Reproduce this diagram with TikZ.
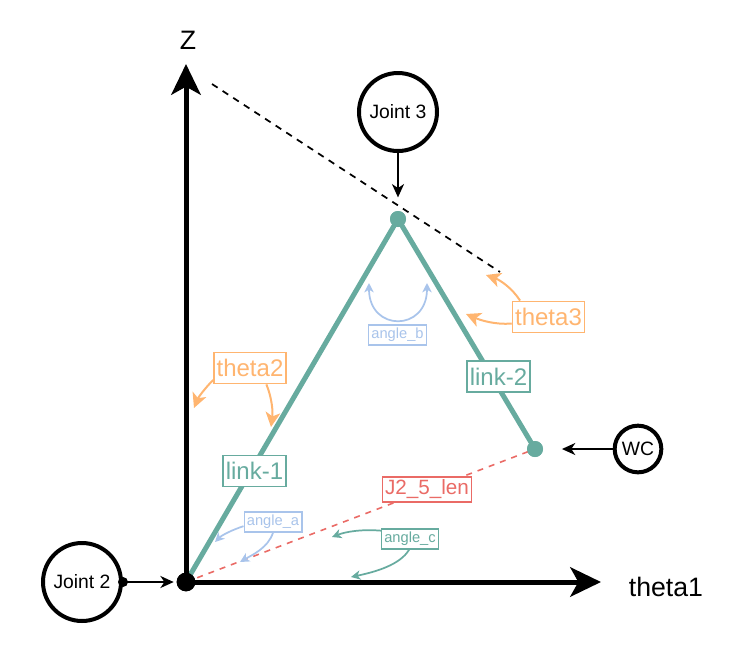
\documentclass[tikz,border=0pt]{standalone}
\usepackage{fontspec}
\setmainfont{Liberation Sans}
\usetikzlibrary{arrows.meta}
\definecolor{lgreen}{HTML}{67AB9F}
\definecolor{lorange}{HTML}{FFB570}
\definecolor{lblue}{HTML}{A9C4EB}
\definecolor{lred}{HTML}{EA6B66}
\tikzset{
  axis/.style={line width=3.75pt, -{Stealth[length=23pt,width=22pt,inset=6pt]}},
  joint/.style={circle, draw, line width=3pt, inner sep=0pt, font=\fontsize{14.5}{17}\selectfont},
  bigdot/.style={circle, fill, inner sep=0pt, minimum size=#1},
  ptr/.style={line width=1.5pt, -{Stealth[length=10pt,width=9pt,inset=3pt]}},
  lbl/.style={draw, fill=white, line width=1.1pt, inner xsep=2pt, inner ysep=0pt},
  olbl/.style={lbl, draw=lorange, text=lorange, minimum height=23.5pt, font=\fontsize{18}{20}\selectfont},
  glbl/.style={lbl, draw=lgreen, text=lgreen, minimum height=23.5pt, font=\fontsize{18}{20}\selectfont},
  slbl/.style={lbl, draw=#1, text=#1, minimum height=15pt, font=\fontsize{11}{12}\selectfont},
  oarr/.style={draw=lorange, line width=1.5pt, -{Stealth[length=11pt,width=11pt,inset=3pt]}},
  sarr/.style={draw=#1, line width=1.3pt, -{Stealth[length=7pt,width=7pt,inset=2pt]}},
  link/.style={draw=lgreen, line width=3.75pt},
}
\begin{document}
\begin{tikzpicture}[x=0.75pt,y=-0.75pt]
\useasboundingbox (0,0) rectangle (751,669);
% reference points
\coordinate (zt) at (186,64);
\coordinate (xt) at (601,582);
\coordinate (dA) at (212,84);
\coordinate (dB) at (500,272);
% dashed black line
\draw[line width=1.3pt, dash pattern=on 5pt off 4.5pt] (dA) -- (dB);
% triangle
\node[bigdot=14pt] (o) at (186,582) {};
\node[bigdot=12pt, lgreen] (apex) at (398,219) {};
\node[bigdot=12pt, lgreen] (wcd) at (535,449) {};
\draw[lred, line width=1.2pt, dash pattern=on 4.5pt off 4.5pt] (o.center) -- (wcd.center);
\draw[link] (o.center) -- (apex.center) -- (wcd.center);
\node[bigdot=12pt, lgreen] at (apex) {};
\node[bigdot=12pt, lgreen] at (wcd) {};
% axes
\draw[axis] (o.center) -- (zt);
\draw[axis] (o.center) -- (xt);
\node[font=\fontsize{20}{22}\selectfont] (zl) at (188,40) {Z};
\node[font=\fontsize{20}{22}\selectfont] (xl) at (666,587) {theta1};
\node[bigdot=14pt] at (o) {};
% joints
\node[joint, minimum size=58.5pt] (j3) at (398,112) {Joint 3};
\node[joint, minimum size=58.5pt] (j2) at (82,582) {Joint 2};
\node[joint, minimum size=35pt] (wc) at (638,449) {WC};
\node[bigdot=7.5pt] (j2d) at (j2.east) {};
\draw[ptr] (j3.south) -- ([yshift=10pt]apex.north);
\draw[ptr] (j2.east) -- ([xshift=-2pt]o.west);
\draw[ptr] (wc.west) -- ([xshift=14pt]wcd.east);
% labels
\node[olbl] (th3) at (548.5,317) {theta3};
\node[olbl] (th2) at (250,368) {theta2};
\node[glbl] (l1) at (254.5,471) {link-1};
\node[glbl] (l2) at (498.5,376.5) {link-2};
\node[lbl, draw=lred, text=lred, minimum height=19pt, font=\fontsize{15.5}{17}\selectfont] (jl) at (427,489.5) {J2\_5\_len};
\node[slbl=lblue] (aa) at (273,522) {angle\_a};
\node[slbl=lblue] (ab) at (397.5,335) {angle\_b};
\node[slbl=lgreen] (ac) at (410,539) {angle\_c};
% label arrows
\coordinate (t3a) at (486,275);
\coordinate (t3b) at (466,314);
\coordinate (t2a) at (194,408);
\coordinate (t2b) at (271,427);
\coordinate (aba) at (369,283);
\coordinate (abb) at (427,283);
\coordinate (aaa) at (215,542);
\coordinate (aab) at (240,562);
\coordinate (aca) at (332,537);
\coordinate (acb) at (351,577);
\draw[oarr] (th3.150) .. controls (512,288) and (500,280) .. (t3a);
\draw[oarr] (th3.190) .. controls (495,325) and (480,320) .. (t3b);
\draw[oarr] (th2.198) .. controls (205,388) and (198,398) .. (t2a);
\draw[oarr] (th2.-45) .. controls (272,398) and (273,412) .. (t2b);
\draw[sarr=lblue, {Stealth[length=7pt,width=7pt,inset=2pt]}-{Stealth[length=7pt,width=7pt,inset=2pt]}] (aba) .. controls (369,332) and (427,332) .. (abb);
\draw[sarr=lblue] (aa.188) .. controls (232,530) and (222,535) .. (aaa);
\draw[sarr=lblue] (aa.south) .. controls (268,548) and (252,555) .. (aab);
\draw[sarr=lgreen] (ac.164) .. controls (360,529) and (345,532) .. (aca);
\draw[sarr=lgreen] (ac.265) .. controls (400,565) and (375,572) .. (acb);
\end{tikzpicture}
\end{document}
